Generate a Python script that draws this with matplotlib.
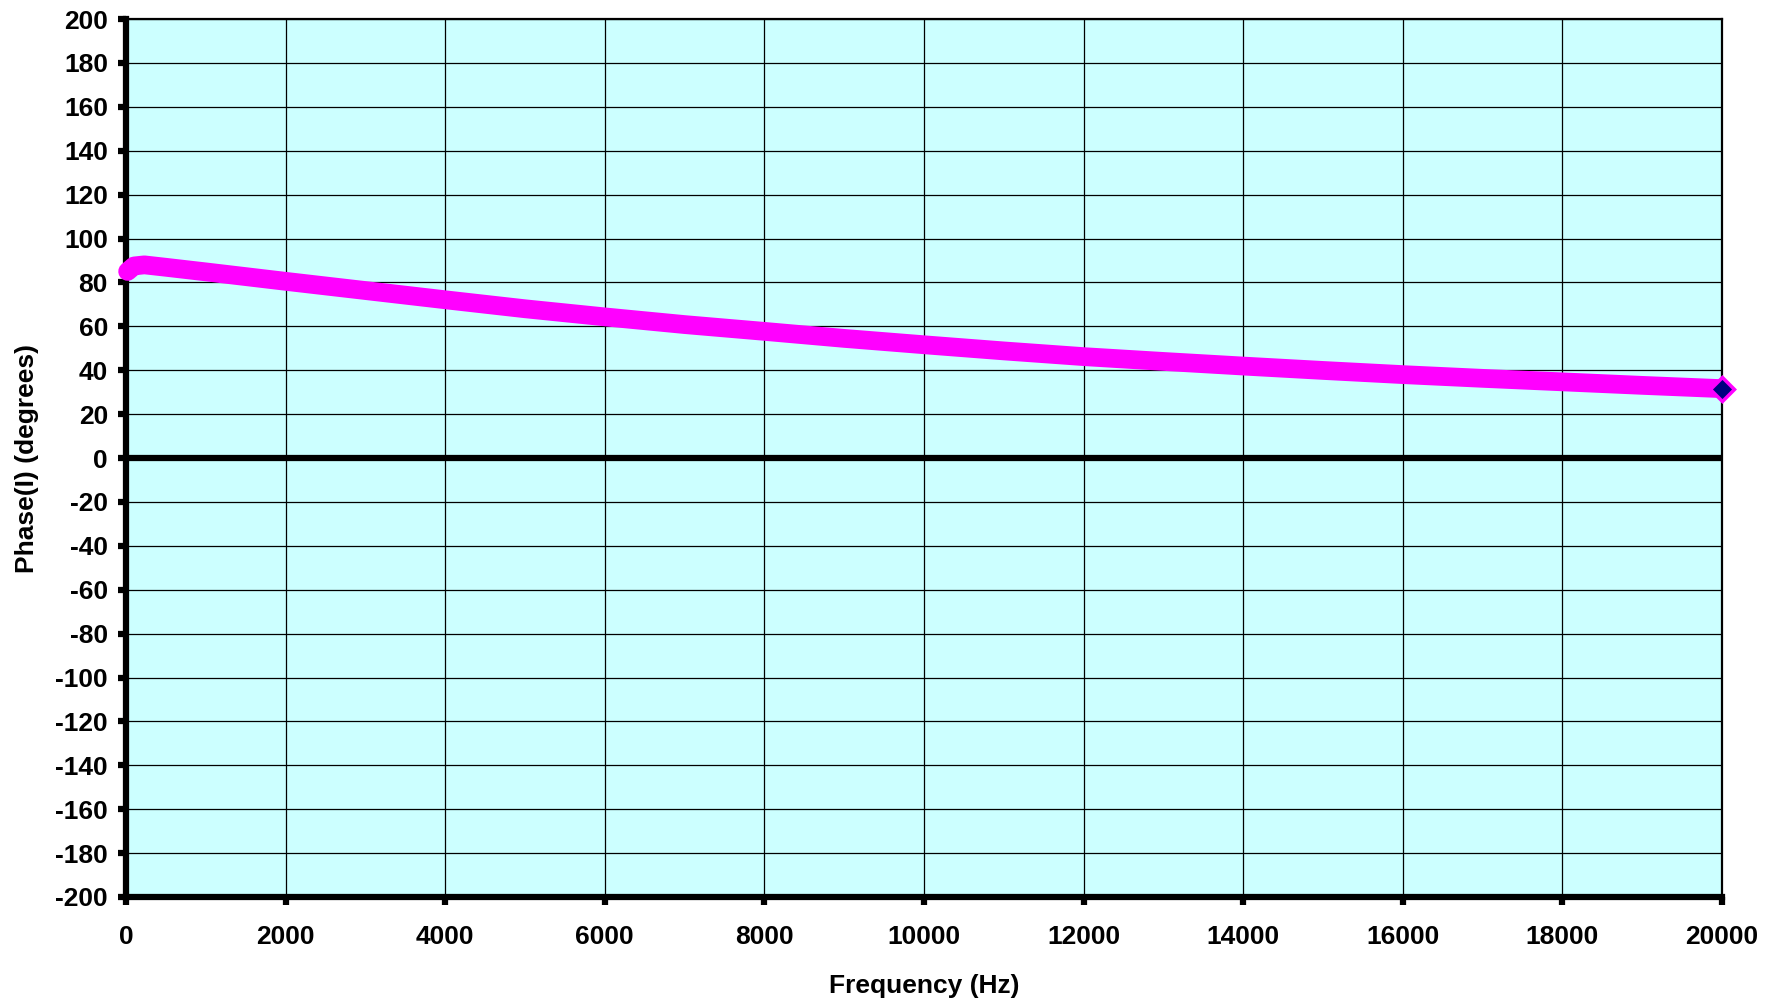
import matplotlib
matplotlib.use("Agg")
import matplotlib.pyplot as plt

plt.rcParams['font.family'] = ['Liberation Sans', 'DejaVu Sans']
plt.rcParams['axes.unicode_minus'] = False

frequency_hz = [20, 100, 230, 500, 1000, 2000, 3000, 4000, 5000, 6000, 7000,
                8000, 9000, 10000, 11000, 12000, 13000, 14000, 15000, 16000,
                17000, 18000, 19000, 20000]
phase_deg = [85.0, 87.5, 88.0, 86.9, 84.8, 80.5, 76.3, 72.1, 68.0, 64.3, 60.8,
             57.7, 54.5, 51.6, 48.8, 46.2, 44.0, 41.9, 39.9, 38.0,
             36.3, 34.7, 33.1, 31.6]
x_ticks = list(range(0, 20001, 2000))
y_ticks = list(range(-200, 201, 20))

fig = plt.figure(figsize=(17.8, 10.02), dpi=100)
ax = fig.add_axes([0.0708, 0.1048, 0.8966, 0.8762])
ax.set_facecolor('#CCFFFF')

ax.set_xlim(0, 20000)
ax.set_ylim(-200, 200)
ax.set_xticks(x_ticks)
ax.set_yticks(y_ticks)
ax.grid(True, color='black', linewidth=0.9)
ax.set_axisbelow(True)

ax.axhline(0, color='black', linewidth=4.5, zorder=2)

ax.plot(frequency_hz, phase_deg, color='#FF00FF', linewidth=13.5,
        solid_capstyle='round', solid_joinstyle='round', zorder=3,
        marker='D', markersize=12, markerfacecolor='#000080',
        markeredgecolor='#FF00FF', markeredgewidth=2.5,
        markevery=[len(frequency_hz) - 1], clip_on=False)

for side in ['left', 'bottom']:
    ax.spines[side].set_linewidth(4.5)
    ax.spines[side].set_color('black')
for side in ['top', 'right']:
    ax.spines[side].set_linewidth(1.6)
    ax.spines[side].set_color('black')

ax.tick_params(axis='both', which='major', length=6, width=4.5,
               direction='out', color='black', labelsize=19)
ax.tick_params(axis='y', pad=7)
ax.tick_params(axis='x', pad=14)
for lbl in ax.get_xticklabels() + ax.get_yticklabels():
    lbl.set_fontweight('bold')

ax.set_xlabel('Frequency (Hz)', fontsize=19, fontweight='bold', labelpad=18)
ax.set_ylabel('Phase(I) (degrees)', fontsize=19, fontweight='bold', labelpad=12)

fig.savefig('out.png', dpi=100, facecolor='white')
